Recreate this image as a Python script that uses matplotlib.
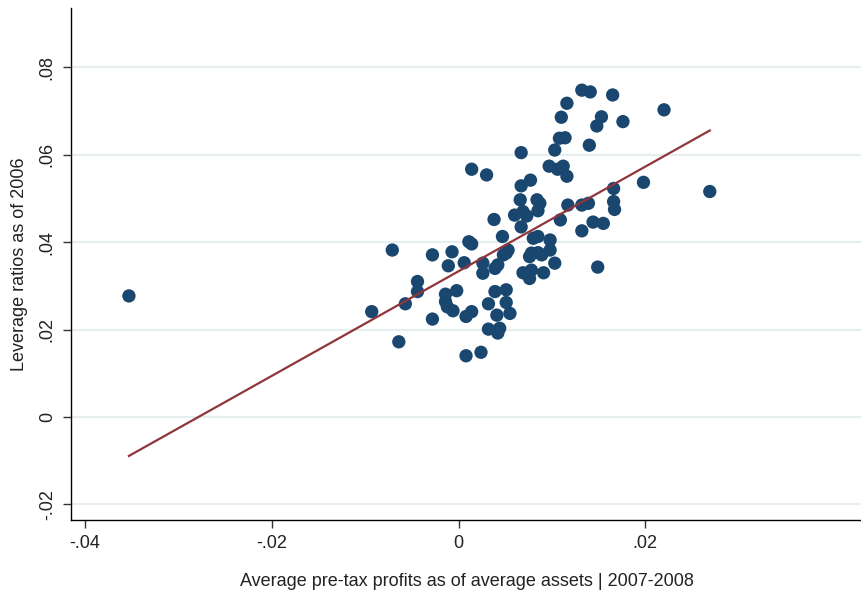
import matplotlib
matplotlib.use("Agg")
import matplotlib.pyplot as plt
import numpy as np

# profits (x) and leverage (y) per bank
profit = [-0.0353, -0.0093, -0.0071, -0.0064, -0.0057, -0.0044, -0.0044, -0.0028,
          -0.0028, -0.0014, -0.0014, -0.0012, -0.0006, -0.0011, -0.0007, -0.0002,
          0.0006, 0.0008, 0.0014, 0.0008, 0.0024, 0.0011, 0.0014, 0.0014,
          0.0030, 0.0026, 0.0026, 0.0032, 0.0032, 0.0038, 0.0039, 0.0051,
          0.0051, 0.0055, 0.0041, 0.0044, 0.0042, 0.0048, 0.0051, 0.0042,
          0.0039, 0.0047, 0.0053, 0.0060, 0.0069, 0.0073, 0.0085, 0.0066,
          0.0084, 0.0087, 0.0067, 0.0077, 0.0067, 0.0067, 0.0080, 0.0085,
          0.0098, 0.0078, 0.0085, 0.0098, 0.0076, 0.0089, 0.0103, 0.0069,
          0.0076, 0.0078, 0.0091, 0.0097, 0.0106, 0.0112, 0.0116, 0.0103,
          0.0108, 0.0114, 0.0110, 0.0116, 0.0132, 0.0141, 0.0165, 0.0153,
          0.0148, 0.0176, 0.0220, 0.0140, 0.0198, 0.0269, 0.0166, 0.0166,
          0.0167, 0.0139, 0.0132, 0.0117, 0.0144, 0.0155, 0.0132, 0.0109,
          0.0149]
leverage = [0.0277, 0.0241, 0.0382, 0.0172, 0.0259, 0.0310, 0.0287, 0.0371,
            0.0224, 0.0281, 0.0264, 0.0252, 0.0243, 0.0346, 0.0378, 0.0289,
            0.0353, 0.0230, 0.0241, 0.0140, 0.0148, 0.0401, 0.0396, 0.0567,
            0.0554, 0.0352, 0.0329, 0.0259, 0.0201, 0.0452, 0.0287, 0.0291,
            0.0262, 0.0237, 0.0233, 0.0203, 0.0192, 0.0371, 0.0375, 0.0348,
            0.0340, 0.0413, 0.0382, 0.0462, 0.0470, 0.0460, 0.0472, 0.0497,
            0.0497, 0.0489, 0.0529, 0.0542, 0.0605, 0.0435, 0.0409, 0.0413,
            0.0405, 0.0375, 0.0376, 0.0382, 0.0367, 0.0371, 0.0352, 0.0330,
            0.0317, 0.0336, 0.0330, 0.0574, 0.0567, 0.0574, 0.0551, 0.0611,
            0.0638, 0.0639, 0.0686, 0.0718, 0.0748, 0.0744, 0.0737, 0.0687,
            0.0666, 0.0676, 0.0703, 0.0622, 0.0537, 0.0516, 0.0523, 0.0493,
            0.0475, 0.0489, 0.0485, 0.0485, 0.0446, 0.0443, 0.0426, 0.0451,
            0.0343]

# linear fit
fit_intercept = 0.03335
fit_slope = 1.1976

x_ticks = [-0.04, -0.02, 0, 0.02]
x_labels = ["-.04", "-.02", "0", ".02"]
y_ticks = [-0.02, 0, 0.02, 0.04, 0.06, 0.08]
y_labels = ["-.02", "0", ".02", ".04", ".06", ".08"]

plt.rcParams['font.family'] = ['Liberation Sans', 'DejaVu Sans']

fig = plt.figure(figsize=(8.62, 5.95), dpi=100)
ax = fig.add_axes([0.0824, 0.126, 0.9176, 0.8605])

for yt in y_ticks:
    ax.axhline(yt, color='#e6eef0', lw=1.6, zorder=0)

ax.scatter(profit, leverage, s=92, color='#1a476f', edgecolors='none', zorder=2)

xs = np.array([min(profit), max(profit)])
ax.plot(xs, fit_intercept + fit_slope * xs, color='#90353b', lw=1.6, zorder=3)

ax.set_xlim(-0.0415, 0.0432)
ax.set_ylim(-0.0236, 0.0936)
ax.set_xticks(x_ticks)
ax.set_xticklabels(x_labels)
ax.set_yticks(y_ticks)
ax.set_yticklabels(y_labels, rotation=90, va='center')

for s in ['top', 'right']:
    ax.spines[s].set_visible(False)
for s in ['left', 'bottom']:
    ax.spines[s].set_linewidth(1.0)
ax.tick_params(direction='out', length=6, width=1.0, labelsize=13, colors='#333333',
               labelcolor='#222222', pad=5)

ax.set_xlabel("Average pre-tax profits as of average assets | 2007-2008",
              fontsize=13, color='#222222', labelpad=15)
ax.set_ylabel("Leverage ratios as of 2006", fontsize=13, color='#222222', labelpad=8)

fig.savefig("out.png", dpi=100)
